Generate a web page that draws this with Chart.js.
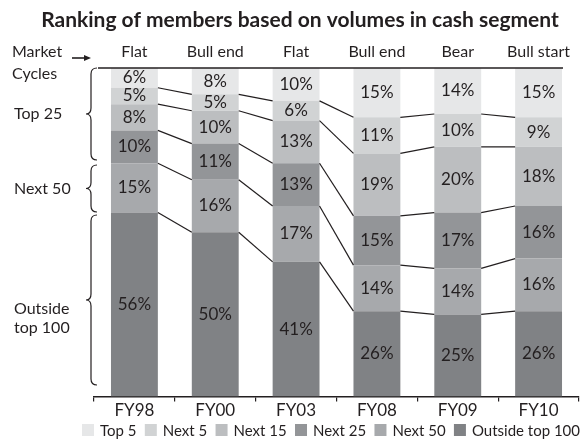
<!DOCTYPE html>
<html lang="en">
<head>
    <meta charset="UTF-8">
    <title>Ranking of members based on volumes in cash segment</title>
    <script src="https://cdn.jsdelivr.net/npm/chart.js"></script>
    <style>
        body { margin: 0; background: #fff; }
        #wrap { width: 586px; height: 440px; }
    </style>
</head>
<body>
    <div id="wrap"><canvas id="rankChart"></canvas></div>
    <script>
        const years = ['FY98', 'FY00', 'FY03', 'FY08', 'FY09', 'FY10'];
        const cycles = ['Flat', 'Bull end', 'Flat', 'Bull end', 'Bear', 'Bull start'];

        // stacked bottom to top
        const outsideTop100 = [56, 50, 41, 26, 25, 26];
        const next50 = [15, 16, 17, 14, 14, 16];
        const next25 = [10, 11, 13, 15, 17, 16];
        const next15 = [8, 10, 13, 19, 20, 18];
        const next5 = [5, 5, 6, 11, 10, 9];
        const top5 = [6, 8, 10, 15, 14, 15];

        const FONT = 'Lato, "Open Sans", sans-serif';
        const ink = '#231f20';

        function drawBrace(ctx, xTip, y1, y2) {
            const xm = xTip + 5, xr = xTip + 11, r = 6;
            const ymid = (y1 + y2) / 2;
            ctx.beginPath();
            ctx.moveTo(xr, y1);
            ctx.quadraticCurveTo(xm, y1, xm, y1 + r);
            ctx.lineTo(xm, ymid - r);
            ctx.quadraticCurveTo(xm, ymid, xTip, ymid);
            ctx.quadraticCurveTo(xm, ymid, xm, ymid + r);
            ctx.lineTo(xm, y2 - r);
            ctx.quadraticCurveTo(xm, y2, xr, y2);
            ctx.stroke();
        }

        const decorPlugin = {
            id: 'decor',
            afterDatasetsDraw(chart) {
                const ctx = chart.ctx;
                const y = chart.scales.y;
                const area = chart.chartArea;
                const sets = chart.data.datasets;
                ctx.save();

                // connector lines between segment boundaries
                ctx.strokeStyle = ink;
                ctx.lineWidth = 1.2;
                for (let d = 0; d < sets.length - 1; d++) {
                    const bars = chart.getDatasetMeta(d).data;
                    for (let i = 0; i < bars.length - 1; i++) {
                        const a = bars[i], b = bars[i + 1];
                        ctx.beginPath();
                        ctx.moveTo(a.x + a.width / 2, a.y);
                        ctx.lineTo(b.x - b.width / 2, b.y);
                        ctx.stroke();
                    }
                }

                // 100% line on top
                const first = chart.getDatasetMeta(0).data;
                ctx.lineWidth = 1.5;
                ctx.beginPath();
                ctx.moveTo(area.left + 4, y.getPixelForValue(100));
                ctx.lineTo(first[first.length - 1].x + first[0].width / 2 + 1, y.getPixelForValue(100));
                ctx.stroke();

                // percentage labels
                ctx.fillStyle = ink;
                ctx.font = '17px ' + FONT;
                ctx.textAlign = 'center';
                ctx.textBaseline = 'middle';
                sets.forEach((ds, d) => {
                    chart.getDatasetMeta(d).data.forEach((bar, i) => {
                        ctx.fillText(ds.data[i] + '%', bar.x, (bar.y + bar.base) / 2);
                    });
                });

                // market cycle labels
                ctx.font = '16px ' + FONT;
                first.forEach((bar, i) => {
                    ctx.fillText(cycles[i], bar.x, 52);
                });

                // title
                ctx.font = 'bold 21px ' + FONT;
                ctx.fillText('Ranking of members based on volumes in cash segment', 300, 20);

                // left side annotations
                ctx.font = '16px ' + FONT;
                ctx.textAlign = 'left';
                ctx.fillText('Market', 12, 52);
                ctx.fillText('Cycles', 12, 74);
                ctx.fillText('Top 25', 14, 114);
                ctx.fillText('Next 50', 14, 189);
                ctx.fillText('Outside', 14, 309);
                ctx.fillText('top 100', 14, 328);

                ctx.lineWidth = 1.6;
                ctx.beginPath();
                ctx.moveTo(72, 58);
                ctx.lineTo(86, 58);
                ctx.stroke();
                ctx.beginPath();
                ctx.moveTo(91, 58);
                ctx.lineTo(84, 55);
                ctx.lineTo(84, 61);
                ctx.closePath();
                ctx.fill();

                ctx.lineWidth = 1.2;
                drawBrace(ctx, 86, 68, 160);
                drawBrace(ctx, 86, 165, 212);
                drawBrace(ctx, 86, 215, 385);

                // legend, top of stack first
                ctx.font = '15px ' + FONT;
                const order = sets.slice().reverse();
                const widths = order.map(ds => ctx.measureText(ds.label).width);
                const left = 82, right = 580, box = 12, gapText = 6;
                const used = widths.reduce((s, w) => s + w + box + gapText, 0);
                const gap = (right - left - used) / (order.length - 1);
                let lx = left;
                order.forEach((ds, k) => {
                    ctx.fillStyle = ds.backgroundColor;
                    ctx.fillRect(lx, 424, box, box);
                    ctx.fillStyle = ink;
                    ctx.fillText(ds.label, lx + box + gapText, 431);
                    lx += box + gapText + widths[k] + gap;
                });
                ctx.restore();
            }
        };

        const ctx = document.getElementById('rankChart').getContext('2d');
        new Chart(ctx, {
            type: 'bar',
            data: {
                labels: years,
                datasets: [
                    { label: 'Outside top 100', data: outsideTop100, backgroundColor: '#808285' },
                    { label: 'Next 50', data: next50, backgroundColor: '#a7a9ac' },
                    { label: 'Next 25', data: next25, backgroundColor: '#939598' },
                    { label: 'Next 15', data: next15, backgroundColor: '#bcbec0' },
                    { label: 'Next 5', data: next5, backgroundColor: '#d1d3d4' },
                    { label: 'Top 5', data: top5, backgroundColor: '#e6e7e8' }
                ]
            },
            options: {
                responsive: true,
                maintainAspectRatio: false,
                animation: false,
                layout: { padding: { left: 94, right: 7, top: 68, bottom: 20 } },
                datasets: { bar: { categoryPercentage: 1, barPercentage: 0.58 } },
                scales: {
                    x: {
                        stacked: true,
                        grid: { drawOnChartArea: false, color: ink, tickLength: 5, lineWidth: 1.2 },
                        border: { color: ink, width: 1.5 },
                        ticks: { color: ink, font: { family: FONT, size: 17 }, padding: -1 }
                    },
                    y: {
                        stacked: true,
                        display: false,
                        min: 0,
                        max: 100
                    }
                },
                plugins: {
                    tooltip: { enabled: false },
                    legend: { display: false }
                }
            },
            plugins: [decorPlugin]
        });
    </script>
</body>
</html>
